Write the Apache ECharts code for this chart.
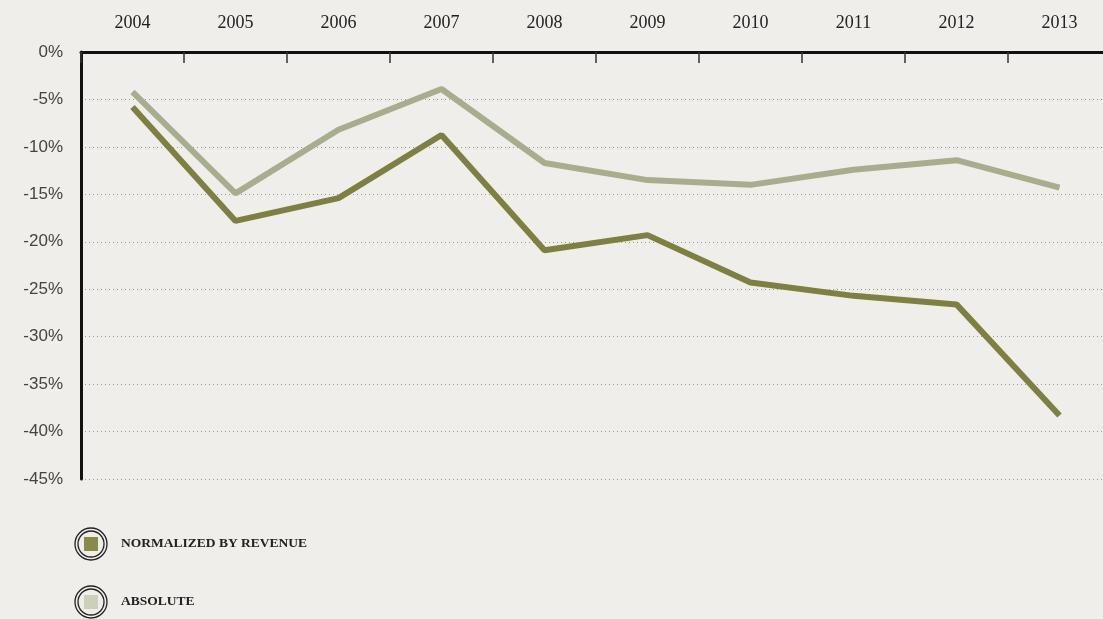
<!DOCTYPE html>
<html>
<head>
<meta charset="utf-8">
<script src="https://cdn.jsdelivr.net/npm/echarts@6/dist/echarts.min.js"></script>
<style>
  html, body { margin: 0; padding: 0; background: #efeeea; overflow: hidden; }
  #main { width: 1111px; height: 619px; }
</style>
</head>
<body>
<div id="main"></div>
<script>
var years = ['2004', '2005', '2006', '2007', '2008', '2009', '2010', '2011', '2012', '2013'];
var normalized = [-5.8, -17.8, -15.4, -8.75, -20.9, -19.3, -24.3, -25.7, -26.6, -38.3];
var absolute = [-4.2, -14.9, -8.2, -3.9, -11.7, -13.5, -14.0, -12.4, -11.4, -14.3];

var myChart = echarts.init(document.getElementById('main'));

// rings around the legend squares
function ring(cy) {
  return [
    { type: 'circle', shape: { cx: 91, cy: cy, r: 16 }, style: { fill: 'none', stroke: '#222', lineWidth: 1.3 } },
    { type: 'circle', shape: { cx: 91, cy: cy, r: 13 }, style: { fill: 'none', stroke: '#222', lineWidth: 1.3 } }
  ];
}

option = {
  backgroundColor: '#efeeea',
  animation: false,
  grid: { left: 81, top: 52, right: 0, height: 427 },
  legend: {
    orient: 'vertical',
    left: 84,
    top: 537,
    padding: 0,
    itemWidth: 14,
    itemHeight: 14,
    itemGap: 44,
    icon: 'rect',
    textStyle: {
      fontFamily: 'Liberation Serif',
      fontWeight: 'bold',
      fontSize: 13.5,
      color: '#222',
      padding: [2, 0, 0, 18]
    },
    data: [
      { name: 'NORMALIZED BY REVENUE', itemStyle: { color: '#8a8a4c' } },
      { name: 'ABSOLUTE', itemStyle: { color: '#cdd0b8' } }
    ]
  },
  graphic: ring(544).concat(ring(602)),
  xAxis: {
    type: 'category',
    position: 'top',
    data: years,
    boundaryGap: true,
    axisLine: { lineStyle: { color: '#111', width: 3 } },
    axisTick: { show: true, inside: true, length: 11, lineStyle: { color: '#333', width: 1.5 } },
    axisLabel: { fontFamily: 'Liberation Serif', fontSize: 18, color: '#222', margin: 20 },
    splitLine: { show: false }
  },
  yAxis: {
    type: 'value',
    min: -45,
    max: 0,
    interval: 5,
    axisLine: { show: true, lineStyle: { color: '#111', width: 3 } },
    axisTick: { show: false },
    axisLabel: { formatter: '{value}%', fontFamily: 'Liberation Sans', fontSize: 17, color: '#444', margin: 18 },
    splitLine: { lineStyle: { color: '#999', type: [1, 3], width: 1 } }
  },
  series: [
    {
      name: 'NORMALIZED BY REVENUE',
      type: 'line',
      data: normalized,
      symbol: 'none',
      lineStyle: { color: '#7e8042', width: 6 },
      itemStyle: { color: '#8a8a4c' }
    },
    {
      name: 'ABSOLUTE',
      type: 'line',
      data: absolute,
      symbol: 'none',
      lineStyle: { color: '#a8ad8e', width: 6 },
      itemStyle: { color: '#cdd0b8' }
    }
  ]
};

myChart.setOption(option);
</script>
</body>
</html>
